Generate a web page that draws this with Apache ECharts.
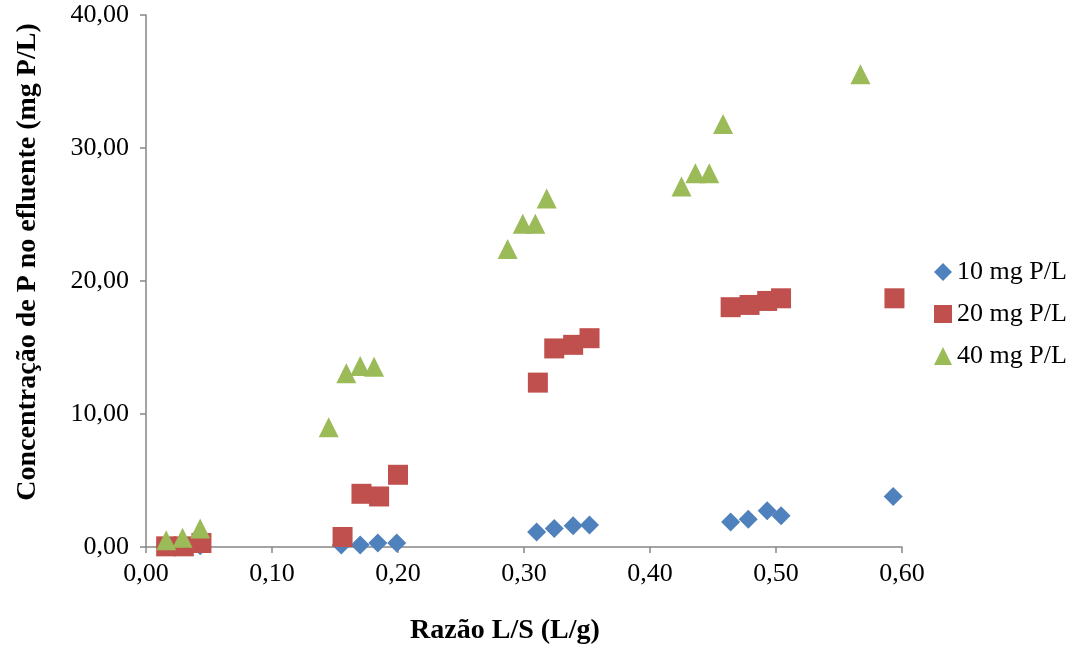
<!DOCTYPE html>
<html>
<head>
<meta charset="utf-8">
<script src="https://cdn.jsdelivr.net/npm/echarts@6/dist/echarts.min.js"></script>
<style>
  html, body { margin: 0; padding: 0; background: #fff; }
  #chart { width: 1073px; height: 650px; }
</style>
</head>
<body>
<div id="chart"></div>
<script>
// series names
var seriesNames = ['10 mg P/L', '20 mg P/L', '40 mg P/L'];

// [razão L/S, concentração]
var data10 = [
    [0.016, 0.1], [0.030, 0.1], [0.043, 0.1],
    [0.155, 0.15], [0.170, 0.15], [0.184, 0.3], [0.199, 0.3],
    [0.310, 1.13], [0.324, 1.4], [0.339, 1.6], [0.352, 1.65],
    [0.464, 1.88], [0.478, 2.08], [0.493, 2.73], [0.504, 2.35],
    [0.593, 3.8]
];
var data20 = [
    [0.016, 0.05], [0.030, 0.05], [0.044, 0.3],
    [0.156, 0.75], [0.171, 4.0], [0.185, 3.8], [0.200, 5.43],
    [0.311, 12.36], [0.324, 14.93], [0.339, 15.2], [0.352, 15.7],
    [0.464, 18.03], [0.479, 18.2], [0.493, 18.5], [0.504, 18.7],
    [0.594, 18.7]
];
var data40 = [
    [0.016, 0.5], [0.029, 0.7], [0.043, 1.4],
    [0.145, 9.0], [0.159, 13.06], [0.170, 13.6], [0.181, 13.55],
    [0.287, 22.4], [0.299, 24.3], [0.309, 24.3], [0.318, 26.2],
    [0.425, 27.1], [0.436, 28.1], [0.447, 28.1], [0.458, 31.8],
    [0.567, 35.55]
];

var colorList = ['#4F81BD', '#C0504D', '#9BBB59'];

var myChart = echarts.init(document.getElementById('chart'));

function fmt(v) {
    return v.toFixed(2).replace('.', ',');
}

var axisLine = {show: true, lineStyle: {color: '#868686', width: 1.5}};
var axisTick = {show: true, length: 6, lineStyle: {color: '#868686', width: 1.5}};

var option = {
    animation: false,
    textStyle: {fontFamily: 'Liberation Serif'},
    grid: {left: 146, top: 15, right: 171, bottom: 102},
    legend: {
        orient: 'vertical', left: 934, top: 259, itemGap: 16,
        itemWidth: 18, itemHeight: 18, padding: 0,
        textStyle: {fontSize: 26, color: '#000', fontFamily: 'Liberation Serif'},
        data: [
            {name: seriesNames[0], icon: 'diamond'},
            {name: seriesNames[1], icon: 'rect'},
            {name: seriesNames[2], icon: 'triangle'}
        ]
    },
    xAxis: {
        type: 'value', min: 0, max: 0.6, interval: 0.1,
        name: 'Razão L/S (L/g)', nameLocation: 'middle', nameGap: 70,
        nameTextStyle: {fontSize: 28, fontWeight: 'bold', color: '#000', fontFamily: 'Liberation Serif',
            padding: [0, 38, 0, 0]},
        axisLine: axisLine, axisTick: axisTick, splitLine: {show: false},
        axisLabel: {fontSize: 26, color: '#000', margin: 14, formatter: fmt}
    },
    yAxis: {
        type: 'value', min: 0, max: 40, interval: 10,
        name: 'Concentração de P no efluente (mg P/L)', nameLocation: 'middle', nameGap: 104,
        nameTextStyle: {fontSize: 28, fontWeight: 'bold', color: '#000', fontFamily: 'Liberation Serif',
            padding: [0, 0, 0, 38]},
        axisLine: axisLine, axisTick: axisTick, splitLine: {show: false},
        axisLabel: {fontSize: 26, color: '#000', margin: 17, formatter: fmt}
    },
    series: [
        {name: seriesNames[0], type: 'scatter', symbol: 'diamond', symbolSize: [19, 19],
            itemStyle: {color: colorList[0], opacity: 1}, data: data10},
        {name: seriesNames[1], type: 'scatter', symbol: 'rect', symbolSize: 20,
            itemStyle: {color: colorList[1], opacity: 1}, data: data20},
        {name: seriesNames[2], type: 'scatter', symbol: 'triangle', symbolSize: 20,
            itemStyle: {color: colorList[2], opacity: 1}, data: data40}
    ]
};

myChart.setOption(option);
</script>
</body>
</html>
